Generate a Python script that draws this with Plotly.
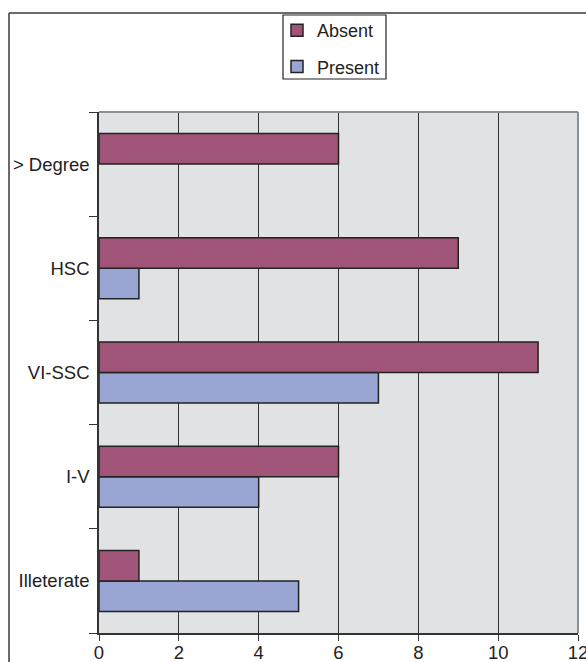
import plotly.graph_objects as go

categories = ["Illeterate", "I-V", "VI-SSC", "HSC", "> Degree"]
absent = [1, 6, 11, 9, 6]
present = [5, 4, 7, 1, 0]
x_ticks = [0, 2, 4, 6, 8, 10, 12]

FONT = "Liberation Sans, Arial, sans-serif"

fig = go.Figure()
fig.add_trace(go.Bar(
    y=categories, x=[v if v else None for v in present], orientation="h", name="Present",
    marker=dict(color="#99a5d3", line=dict(color="#222222", width=1.5)),
    legendgroup="p", legendrank=2,
))
fig.add_trace(go.Bar(
    y=categories, x=[v if v else None for v in absent], orientation="h", name="Absent",
    marker=dict(color="#a05578", line=dict(color="#222222", width=1.5)),
    legendgroup="a", legendrank=1,
))

W, H = 586, 662
L, R, T, B = 99, 8, 112, 29
pw = W - L - R
ph = H - T - B

def px_x(x):
    return (x - L) / pw

def px_y(y):
    return (H - B - y) / ph

fig.update_layout(
    template="none",
    width=W, height=H,
    margin=dict(l=L, r=R, t=T, b=B, pad=0, autoexpand=False),
    paper_bgcolor="white",
    plot_bgcolor="#e1e2e4",
    barmode="group",
    bargap=0.415,
    bargroupgap=0,
    font=dict(family=FONT, size=18, color="#222222"),
    legend=dict(
        x=px_x(283), y=px_y(12), xanchor="left", yanchor="top",
        borderwidth=0, bgcolor="rgba(0,0,0,0)",
        tracegroupgap=10, itemwidth=30, indentation=-6,
        font=dict(family=FONT, size=18, color="#222222"),
    ),
    xaxis=dict(
        range=[0, 12], tickvals=x_ticks, ticktext=[str(v) for v in x_ticks],
        showgrid=True, gridcolor="#333333", gridwidth=1,
        showline=True, linecolor="#333333", linewidth=1.5,
        ticks="outside", ticklen=6, tickcolor="#333333", tickwidth=1,
        ticklabelstandoff=-4, ticklabeloverflow="allow",
        tickfont=dict(family=FONT, size=18.5, color="#222222"),
        zeroline=False, fixedrange=True, automargin=False,
    ),
    yaxis=dict(
        type="category", categoryorder="array", categoryarray=categories,
        tickson="boundaries", ticks="outside", ticklen=8, tickcolor="#333333", tickwidth=1,
        ticklabelstandoff=4,
        tickfont=dict(family=FONT, size=18.5, color="#222222"),
        showline=True, linecolor="#333333", linewidth=1.5,
        showgrid=False, zeroline=False, fixedrange=True, automargin=False,
    ),
    shapes=[
        # plot area border (top/right gray)
        dict(type="line", xref="paper", yref="paper", x0=0, x1=1, y0=1, y1=1,
             line=dict(color="#8a9096", width=2)),
        dict(type="line", xref="paper", yref="paper", x0=1, x1=1, y0=0, y1=1,
             line=dict(color="#8a9096", width=2)),
        # outer frame
        dict(type="line", xref="paper", yref="paper", x0=px_x(9), x1=px_x(9),
             y0=px_y(700), y1=px_y(13), line=dict(color="#3a3a3a", width=1.5)),
        dict(type="line", xref="paper", yref="paper", x0=px_x(9), x1=px_x(620),
             y0=px_y(13), y1=px_y(13), line=dict(color="#3a3a3a", width=1.5)),
        # legend box
        dict(type="rect", xref="paper", yref="paper", x0=px_x(283), x1=px_x(386),
             y0=px_y(79), y1=px_y(15), fillcolor="white",
             line=dict(color="#222222", width=1.2), layer="below"),
    ],
)

fig.write_html("out.html")
